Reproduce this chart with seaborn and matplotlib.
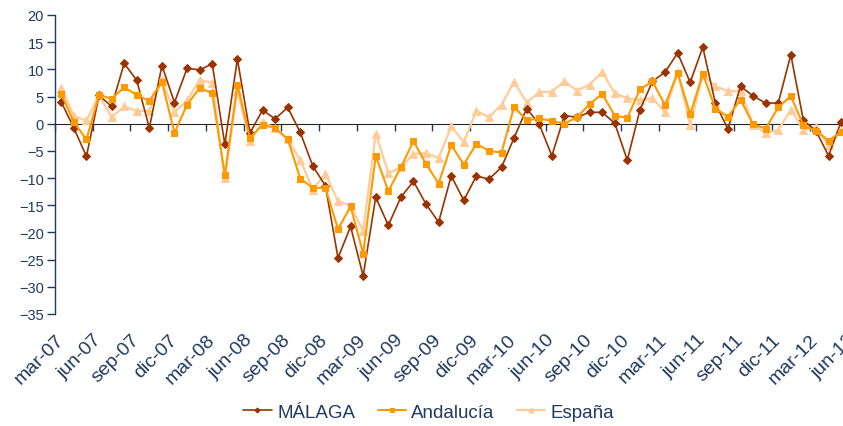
import numpy as np
import pandas as pd
import matplotlib
matplotlib.use('Agg')
import matplotlib.pyplot as plt
import seaborn as sns

# Data (monthly, mar-07 .. may-12) ------------------------------------------
months = pd.period_range('2007-03', '2012-05', freq='M')

malaga = [4.0, -0.8, -6.0, 5.2, 3.2, 11.1, 8.0, -0.8, 10.7, 3.9, 10.2, 9.9, 11.0,
          -3.8, 11.9, -1.7, 2.5, 0.9, 3.0, -1.6, -7.8, -11.4, -24.7, -18.9, -28.0,
          -13.5, -18.7, -13.5, -10.6, -14.8, -18.1, -9.6, -14.1, -9.6, -10.2, -8.0,
          -2.6, 2.8, -0.1, -5.9, 1.5, 1.2, 2.1, 2.1, 0.1, -6.7, 2.5, 7.8, 9.5, 13.0,
          7.6, 14.1, 3.8, -1.0, 6.9, 5.1, 3.8, 3.8, 12.7, 0.6, -1.3, -5.9, 0.4]

andalucia = [5.5, 0.3, -2.9, 5.3, 4.6, 6.7, 5.3, 4.2, 7.7, -1.7, 3.5, 6.6, 5.6,
             -9.5, 7.2, -2.6, -0.2, -0.8, -2.8, -10.1, -11.8, -11.8, -19.4, -15.2, -23.9,
             -5.9, -12.4, -8.0, -3.2, -7.4, -11.0, -3.9, -7.5, -3.7, -5.0, -5.3,
             3.1, 0.6, 1.0, 0.5, 0.0, 1.2, 3.6, 5.5, 1.5, 1.1, 6.3, 7.8, 3.4, 9.4,
             1.7, 9.2, 2.8, 1.3, 4.4, -0.1, -0.9, 3.0, 5.1, -0.3, -1.3, -3.1, -1.5]

espana = [6.6, 1.4, 0.6, 5.2, 1.2, 3.2, 2.3, 2.4, 8.0, 2.1, 4.3, 8.1, 7.5,
          -10.0, 6.1, -3.2, 0.3, -0.8, -2.9, -6.7, -12.1, -9.2, -14.2, -15.1, -19.7,
          -1.8, -9.1, -8.0, -5.6, -5.4, -6.3, -0.5, -3.4, 2.4, 1.2, 3.5, 7.7, 3.9,
          5.8, 5.9, 7.8, 6.1, 7.2, 9.5, 5.6, 4.7, 4.3, 4.7, 2.1, 9.5, -0.2, 9.0,
          6.9, 6.0, 6.0, -0.2, -1.7, -1.2, 2.6, -1.2, -0.6, -4.0, -1.3]

tick_labels = ['mar-07', 'jun-07', 'sep-07', 'dic-07', 'mar-08', 'jun-08', 'sep-08',
               'dic-08', 'mar-09', 'jun-09', 'sep-09', 'dic-09', 'mar-10', 'jun-10',
               'sep-10', 'dic-10', 'mar-11', 'jun-11', 'sep-11', 'dic-11', 'mar-12',
               'jun-12']
yticks = list(range(-35, 25, 5))

# Style ----------------------------------------------------------------------
sns.set_style('white')
plt.rcParams['font.family'] = ['Liberation Sans', 'DejaVu Sans']
navy = '#1F3A5F'

x = np.arange(len(months))
fig = plt.figure(figsize=(8.43, 4.27), dpi=100)
ax = fig.add_axes([55 / 843, 1 - 315 / 427, 805 / 843, 299 / 427])

sns.lineplot(x=x, y=espana, ax=ax, color='#FFCC99', lw=1.6, marker='^', ms=6,
             mec='#FFCC99', label='España', zorder=2)
sns.lineplot(x=x, y=malaga, ax=ax, color='#993300', lw=1.2, marker='D', ms=4.2,
             mec='#993300', label='MÁLAGA', zorder=3)
sns.lineplot(x=x, y=andalucia, ax=ax, color='#FF9900', lw=1.5, marker='s', ms=5,
             mec='#FF9900', label='Andalucía', zorder=4)

ax.set_xlim(-0.5, 63.5)
ax.set_ylim(-35, 20)

# y axis on the left
ax.set_yticks(yticks)
ax.tick_params(axis='y', direction='out', length=6, width=1, color=navy,
               labelcolor=navy, labelsize=10.5, pad=2, left=True)
for side in ['top', 'right', 'bottom']:
    ax.spines[side].set_visible(False)
ax.spines['left'].set_color(navy)
ax.spines['left'].set_linewidth(1)

# category labels at the bottom
ticks_pos = np.arange(len(tick_labels)) * 3 - 0.5
ax.set_xticks(ticks_pos)
ax.set_xticklabels(tick_labels, rotation=45, ha='right', rotation_mode='anchor')
ax.tick_params(axis='x', length=0, labelcolor=navy, labelsize=14, pad=12)

# zero line with small tick marks
zero_ax = ax.secondary_xaxis(35 / 55)
zero_ax.set_xticks(ticks_pos)
zero_ax.tick_params(axis='x', direction='out', length=5, width=1, color=navy,
                    labelbottom=False, labeltop=False, bottom=True, top=False)
zero_ax.spines['bottom'].set_color(navy)
zero_ax.spines['bottom'].set_linewidth(1.2)

ax.set_xlabel('')
ax.set_ylabel('')

handles, labels = ax.get_legend_handles_labels()
order = [labels.index(l) for l in ['MÁLAGA', 'Andalucía', 'España']]
leg = fig.legend([handles[i] for i in order], [labels[i] for i in order],
                 loc='center', bbox_to_anchor=(429 / 843, 1 - 413 / 427), ncol=3,
                 frameon=False, fontsize=13.5, handlelength=1.5, columnspacing=1.2,
                 handletextpad=0.3, markerscale=0.6)
for t in leg.get_texts():
    t.set_color(navy)
ax.get_legend().remove()

fig.savefig('out.png', dpi=100)
